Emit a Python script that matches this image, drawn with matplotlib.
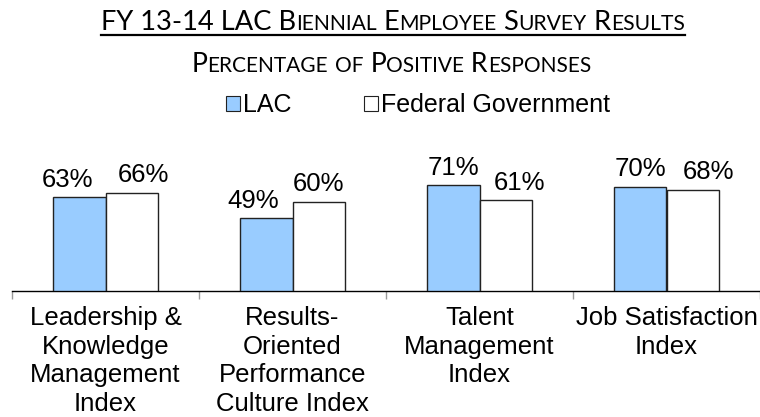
import matplotlib
matplotlib.use("Agg")
import matplotlib.pyplot as plt
from matplotlib.patches import Patch
from matplotlib.lines import Line2D
from matplotlib.offsetbox import TextArea, HPacker, AnnotationBbox
import numpy as np

categories = ["Leadership &\nKnowledge\nManagement\nIndex",
              "Results-\nOriented\nPerformance\nCulture Index",
              "Talent\nManagement\nIndex",
              "Job Satisfaction\nIndex"]
lac = [63, 49, 71, 70]
federal = [66, 60, 61, 68]
series_names = ["LAC", "Federal Government"]
title = "FY 13-14 LAC Biennial Employee Survey Results"
subtitle = "Percentage of Positive Responses"

# horizontal nudges (in points) applied to data labels to avoid overlap
lac_label_dx = [-8, -9.5, 0, 0]
fed_label_dx = [8, 0, 9.5, 11.5]

SANS = "Liberation Sans"
TITLE_FONT = "Lato"

fig = plt.figure(figsize=(7.6, 4.17), dpi=100)
ax = fig.add_axes([12/760, 126/417, 748/760, 119/417])

x = np.arange(len(categories))
w = 0.283
b1 = ax.bar(x - w/2, lac, w, color="#99CCFF", edgecolor="#222222", linewidth=1.0, zorder=3)
b2 = ax.bar(x + w/2, federal, w, color="white", edgecolor="#222222", linewidth=1.0, zorder=3)

for rects, vals, dxs in ((b1, lac, lac_label_dx), (b2, federal, fed_label_dx)):
    for r, v, dx in zip(rects, vals, dxs):
        ax.annotate(f"{v}%", (r.get_x() + r.get_width()/2, v), xytext=(dx, 4),
                    textcoords="offset points", ha="center", va="bottom",
                    fontsize=18.5, family=SANS)

ax.set_xlim(-0.5, len(categories) - 0.5)
ax.set_ylim(0, 80)
ax.set_yticks([])
for s in ("left", "right", "top"):
    ax.spines[s].set_visible(False)
ax.spines["bottom"].set_linewidth(1.0)
ax.spines["bottom"].set_color("black")
ax.set_xticks(x)
ax.set_xticklabels(categories, fontsize=18.5, family=SANS, linespacing=1.24)
ax.tick_params(axis="x", which="major", length=0, pad=11)
ax.set_xticks(np.arange(-0.5, len(categories)), minor=True)
ax.tick_params(axis="x", which="minor", length=6, color="#999999", width=1)
ax.patch.set_alpha(0)


def small_caps(text, big, small, font):
    segs = []
    for ch in text:
        if ch.islower():
            sz, c = small, ch.upper()
        else:
            sz, c = big, ch
        if segs and segs[-1][1] == sz:
            segs[-1][0] += c
        else:
            segs.append([c, sz])
    kids = [TextArea(s, textprops=dict(fontsize=sz, family=font, color="black"))
            for s, sz in segs]
    return HPacker(children=kids, align="baseline", pad=0, sep=0)


tbox = small_caps(title, 19.6, 15.2, TITLE_FONT)
ab_t = AnnotationBbox(tbox, (0.517, 0.945), xycoords="figure fraction",
                      frameon=False, box_alignment=(0.5, 0.5), pad=0)
fig.add_artist(ab_t)

sbox = small_caps(subtitle, 19.2, 15.0, TITLE_FONT)
ab_s = AnnotationBbox(sbox, (0.515, 0.845), xycoords="figure fraction",
                      frameon=False, box_alignment=(0.5, 0.5), pad=0)
fig.add_artist(ab_s)

handles = [Patch(facecolor="#99CCFF", edgecolor="#222222", linewidth=0.8),
           Patch(facecolor="white", edgecolor="#222222", linewidth=0.8)]
fig.legend(handles, series_names, loc="center", bbox_to_anchor=(0.55, 0.748),
           ncol=2, frameon=False, handlelength=0.55, handleheight=0.55,
           handletextpad=0.12, columnspacing=2.9, borderaxespad=0, borderpad=0,
           prop=dict(family=SANS, size=18))

fig.canvas.draw()
r = fig.canvas.get_renderer()
bb = ab_t.get_window_extent(r)
W, H = fig.bbox.width, fig.bbox.height
yline = bb.y0 + 0.5
fig.add_artist(Line2D([bb.x0 / W, bb.x1 / W], [yline / H, yline / H],
                      transform=fig.transFigure, color="black", linewidth=1.6))

fig.savefig("out.png", dpi=100)
